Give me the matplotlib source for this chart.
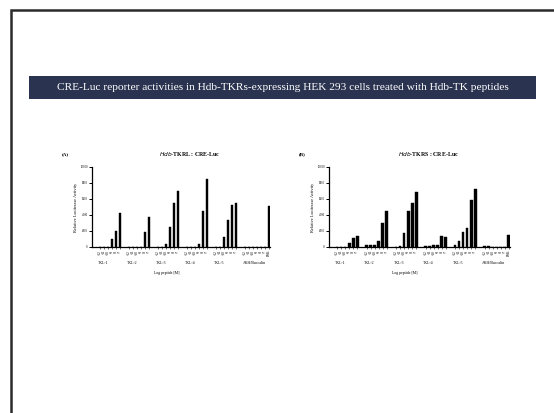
"""Slide: CRE-Luc reporter activities, two bar panels."""
import matplotlib
matplotlib.use("Agg")
import matplotlib.pyplot as plt
from matplotlib.patches import Rectangle

SERIF = ["Liberation Serif", "DejaVu Serif"]
NAVY = "#2a3350"

# ── Data ──────────────────────────────────────────────────────────────────────
GROUPS = ["TKL-1", "TKL-2", "TKL-3", "TKL-4", "TKL-5", "AKH/Buccalin"]
CONC = ["-12", "-11", "-10", "-9", "-8", "-7"]
CTRL = "FSK"

# Hdb-TKRL (panel A), one list per peptide, last group has an extra control bar
TKRL = [
    [0, 0, 0, 1000, 2000, 4200],
    [0, 0, 0, 0, 1900, 3700],
    [0, 0, 400, 2500, 5500, 7000],
    [0, 0, 0, 400, 4500, 8500],
    [0, 0, 1200, 3400, 5300, 5500],
    [0, 0, 0, 0, 0, 0, 5100],
]

# Hdb-TKRS (panel B)
TKRS = [
    [50, 50, 50, 500, 1100, 1400],
    [200, 300, 200, 700, 3000, 4500],
    [50, 100, 1800, 4500, 5500, 6900],
    [100, 100, 200, 300, 1350, 1300],
    [300, 700, 1900, 2400, 5900, 7200],
    [100, 100, 50, 50, 50, 50, 1500],
]

YTICKS = [0, 2000, 4000, 6000, 8000, 10000]
GROUP_STEP = 7.3


def _panel(ax, data, title, tag):
    xs, hs, labels = [], [], []
    for g, vals in enumerate(data):
        for i, v in enumerate(vals):
            xs.append(g * GROUP_STEP + i)
            hs.append(v)
            labels.append(CONC[i] if i < len(CONC) else CTRL)
    ax.bar(xs, hs, width=0.65, color="black", edgecolor="black", linewidth=0.3)

    ax.set_xlim(-2.0, xs[-1] + 0.3)
    ax.set_ylim(0, 10000)
    for s in ("top", "right"):
        ax.spines[s].set_visible(False)
    ax.spines["left"].set_linewidth(0.9)
    ax.spines["bottom"].set_linewidth(0.9)

    ax.set_yticks(YTICKS)
    ax.set_yticklabels(YTICKS, fontsize=2.2, family=SERIF)
    ax.tick_params(axis="y", length=2, width=0.7, pad=1)
    ax.set_xticks(xs)
    ax.set_xticklabels(labels, rotation=90, fontsize=2.6, family=SERIF)
    ax.tick_params(axis="x", length=1.2, width=0.4, pad=0.8)

    ax.set_ylabel("Relative Luciferase Activity", fontsize=3.2, family=SERIF,
                  labelpad=2)

    for g, name in enumerate(GROUPS):
        ax.text(g * GROUP_STEP - 0.6, -0.2, name, transform=ax.get_xaxis_transform(),
                ha="left", va="center", fontsize=2.8, family=SERIF)
    ax.text(0.42, -0.33, "Log peptide [M]", transform=ax.transAxes,
            ha="center", va="center", fontsize=2.8, family=SERIF)

    ax.text(0.55, 1.16, title, transform=ax.transAxes, ha="center",
            va="center", fontsize=4.2, family=SERIF, fontweight="bold")
    ax.text(-0.15, 1.16, tag, transform=ax.transAxes, ha="center",
            va="center", fontsize=3.6, family=SERIF, fontweight="bold")


def main():
    fig = plt.figure(figsize=(5.54, 4.13), dpi=100)
    fig.patch.set_facecolor("white")

    # slide background, border and banner
    bg = fig.add_axes([0, 0, 1, 1])
    bg.set_xlim(0, 554)
    bg.set_ylim(413, 0)
    bg.axis("off")
    bg.plot([11, 11, 554], [413, 10, 10], color="#2b2b2b", lw=1.8,
            solid_joinstyle="miter")
    bg.add_patch(Rectangle((29, 76), 507, 23, facecolor=NAVY, edgecolor="none"))
    bg.text(283, 88, "CRE-Luc reporter activities in Hdb-TKRs-expressing "
            "HEK 293 cells treated with Hdb-TK peptides",
            ha="center", va="center", color="white", fontsize=8.2, family=SERIF)

    ax_a = fig.add_axes([92 / 554, 1 - 247 / 413, 178 / 554, 80 / 413])
    _panel(ax_a, TKRL, r"$\it{Hdb}$-TKRL : CRE-Luc", "(A)")

    ax_b = fig.add_axes([329 / 554, 1 - 247 / 413, 181 / 554, 80 / 413])
    _panel(ax_b, TKRS, r"$\it{Hdb}$-TKRS : CRE-Luc", "(B)")

    fig.savefig("out.png", dpi=100)


if __name__ == "__main__":
    main()
